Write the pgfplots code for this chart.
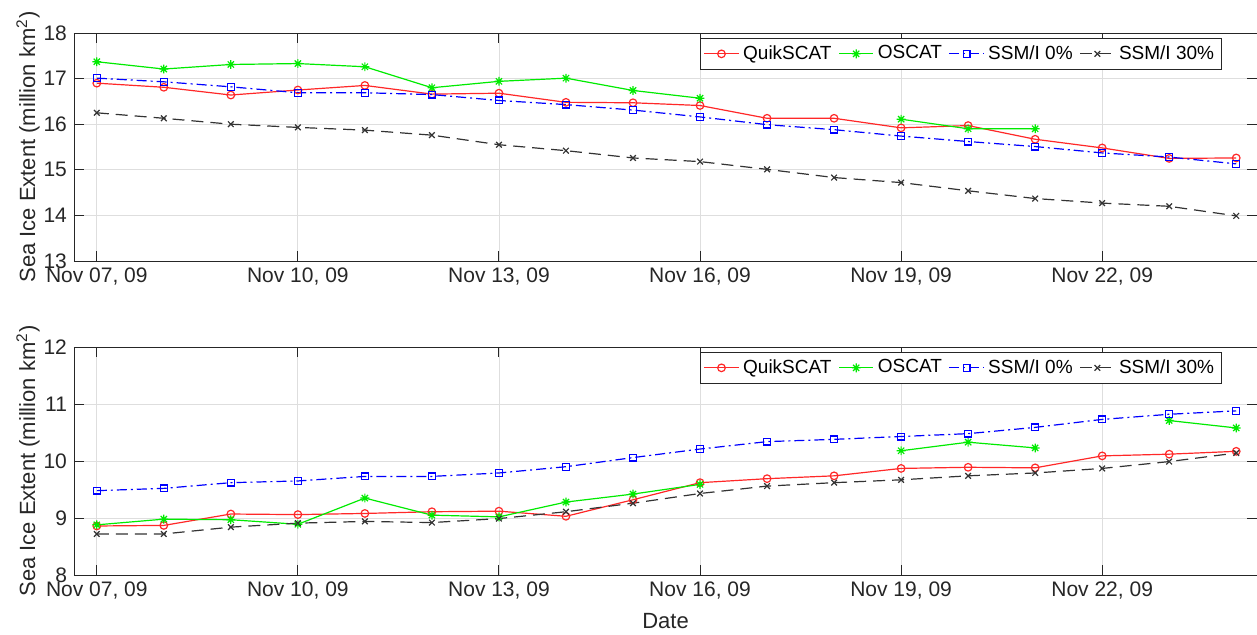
\documentclass[border=0pt]{standalone}
\usepackage{fontspec}
\setmainfont{Liberation Sans}
\usepackage{pgfplots}
\usepackage{pgfplotstable}
\pgfplotsset{compat=1.18}

\pgfdeclareplotmark{mstar}{%
  \pgfpathmoveto{\pgfqpoint{-\pgfplotmarksize}{0pt}}\pgfpathlineto{\pgfqpoint{\pgfplotmarksize}{0pt}}%
  \pgfpathmoveto{\pgfqpoint{0pt}{-\pgfplotmarksize}}\pgfpathlineto{\pgfqpoint{0pt}{\pgfplotmarksize}}%
  \pgfpathmoveto{\pgfqpoint{-0.707\pgfplotmarksize}{-0.707\pgfplotmarksize}}\pgfpathlineto{\pgfqpoint{0.707\pgfplotmarksize}{0.707\pgfplotmarksize}}%
  \pgfpathmoveto{\pgfqpoint{-0.707\pgfplotmarksize}{0.707\pgfplotmarksize}}\pgfpathlineto{\pgfqpoint{0.707\pgfplotmarksize}{-0.707\pgfplotmarksize}}%
  \pgfusepathqstroke}

\pgfplotstableread{
day Q O S0 S30
0 16.90 17.37 17.01 16.25
1 16.81 17.21 16.93 16.13
2 16.64 17.31 16.82 16.00
3 16.75 17.33 16.69 15.93
4 16.85 17.26 16.69 15.87
5 16.66 16.80 16.65 15.76
6 16.68 16.94 16.52 15.55
7 16.48 17.01 16.43 15.42
8 16.47 16.74 16.31 15.26
9 16.41 16.57 16.16 15.18
10 16.13 nan 15.99 15.01
11 16.13 nan 15.88 14.83
12 15.92 16.11 15.74 14.72
13 15.97 15.90 15.62 14.54
14 15.67 15.90 15.51 14.37
15 15.48 nan 15.37 14.27
16 15.25 nan 15.28 14.20
17 15.26 nan 15.13 13.99
}\toptable

\pgfplotstableread{
day Q O S0 S30
0 8.86 8.88 9.48 8.72
1 8.87 8.98 9.52 8.72
2 9.07 8.97 9.62 8.84
3 9.06 8.89 9.65 8.91
4 9.08 9.35 9.73 8.94
5 9.11 9.05 9.73 8.92
6 9.12 9.02 9.79 8.99
7 9.03 9.28 9.90 9.11
8 9.32 9.42 10.06 9.26
9 9.62 9.59 10.21 9.43
10 9.69 nan 10.34 9.56
11 9.74 nan 10.38 9.62
12 9.87 10.18 10.43 9.67
13 9.89 10.33 10.48 9.74
14 9.88 10.23 10.59 9.79
15 10.09 nan 10.73 9.87
16 10.12 10.71 10.82 9.99
17 10.17 10.58 10.88 10.14
}\bottable

\definecolor{axgray}{RGB}{38,38,38}
\definecolor{qred}{RGB}{255,40,40}
\definecolor{ogreen}{RGB}{0,235,0}

\pgfplotsset{
  mystyle/.style={
    scale only axis, width=591.5pt, height=114pt,
    anchor=north west,
    xmin=-0.34, xmax=17.31,
    xtick={0,3,6,9,12,15},
    xticklabels={{Nov 07, 09},{Nov 10, 09},{Nov 13, 09},{Nov 16, 09},{Nov 19, 09},{Nov 22, 09}},
    grid=major,
    major grid style={color=black!13, line width=0.4pt},
    tick align=inside, major tick length=5pt,
    axis line style={color=axgray, line width=0.45pt},
    tick style={color=axgray, line width=0.45pt},
    tick label style={font=\fontsize{10.5}{12}\selectfont, color=axgray},
    /pgf/number format/assume math mode=true,
    label style={font=\fontsize{11}{13}\selectfont, color=axgray},
    ylabel={Sea Ice Extent (million km\textsuperscript{2})},
    ylabel style={at={(axis description cs:-0.0389,0.5)}, anchor=center},
    unbounded coords=jump,
    legend columns=4,
    legend style={at={(rel axis cs:0.970,0.978)}, anchor=north east,
      draw=axgray, line width=0.45pt, font=\fontsize{9.5}{11}\selectfont,
      inner sep=1.5pt, row sep=0pt,
      /tikz/every even column/.append style={column sep=1.5pt}},
    legend cell align=left,
  },
  qstyle/.style={color=qred, line width=0.6pt, mark=o, mark size=1.9pt, mark options={solid}},
  ostyle/.style={color=ogreen, line width=0.6pt, mark=mstar, mark size=2.2pt, mark options={solid}},
  s0style/.style={color=blue, line width=0.6pt, dash pattern=on 5pt off 2pt on 1pt off 2pt, mark=square, mark size=1.7pt, mark options={solid}},
  s30style/.style={color=black!80, line width=0.6pt, dash pattern=on 6pt off 3.5pt, mark=x, mark size=2pt, mark options={solid}},
}

\begin{document}
\begin{tikzpicture}
\begin{axis}[mystyle, at={(0pt,0pt)}, ymin=13, ymax=18, ytick={13,14,15,16,17,18}]
\addplot[qstyle] table[x=day,y=Q] {\toptable};
\addlegendentry{QuikSCAT}
\addplot[ostyle] table[x=day,y=O] {\toptable};
\addlegendentry{OSCAT}
\addplot[s0style] table[x=day,y=S0] {\toptable};
\addlegendentry{SSM/I 0\%}
\addplot[s30style] table[x=day,y=S30] {\toptable};
\addlegendentry{SSM/I 30\%}
\end{axis}
\begin{axis}[mystyle, at={(0pt,-157pt)}, ymin=8, ymax=12, ytick={8,9,10,11,12}, xlabel={Date}]
\addplot[qstyle] table[x=day,y=Q] {\bottable};
\addlegendentry{QuikSCAT}
\addplot[ostyle] table[x=day,y=O] {\bottable};
\addlegendentry{OSCAT}
\addplot[s0style] table[x=day,y=S0] {\bottable};
\addlegendentry{SSM/I 0\%}
\addplot[s30style] table[x=day,y=S30] {\bottable};
\addlegendentry{SSM/I 30\%}
\end{axis}
\pgfresetboundingbox
\path[use as bounding box] (-37pt,-300.5pt) rectangle (591.5pt,16.5pt);
\end{tikzpicture}
\end{document}
